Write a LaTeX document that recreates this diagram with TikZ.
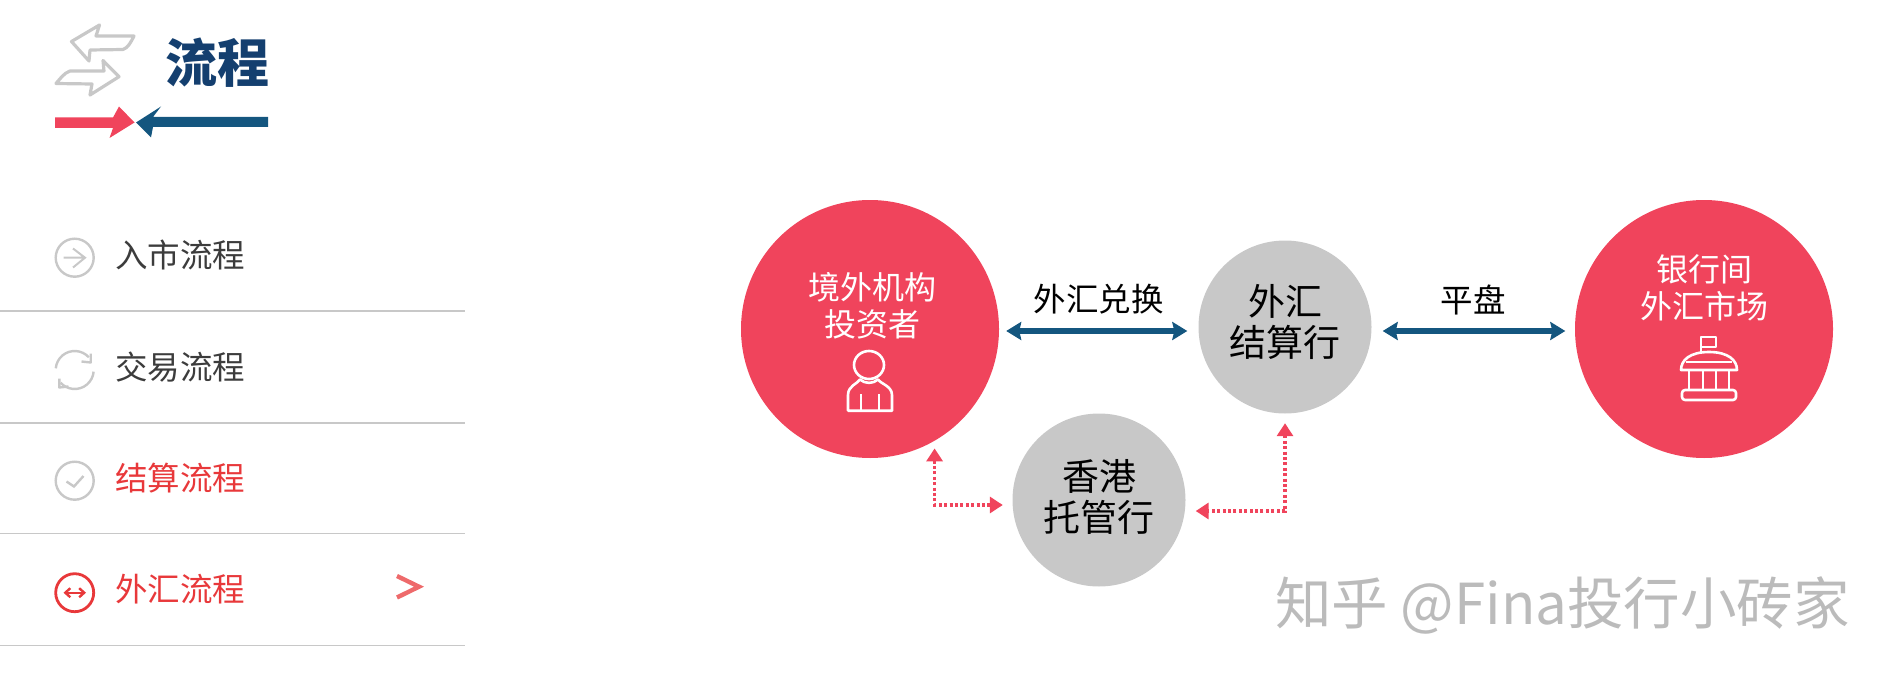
\documentclass[tikz,border=0pt]{standalone}
\usepackage{fontspec}
\setmainfont{Noto Sans CJK SC}
\usetikzlibrary{arrows.meta,calc}
\definecolor{cred}{HTML}{F0445C}
\definecolor{cgray}{HTML}{C8C8C8}
\definecolor{cblue}{HTML}{14567F}
\definecolor{ctitle}{HTML}{143F6F}
\definecolor{ctext}{HTML}{3C3C3C}
\definecolor{cmenu}{HTML}{E8383A}
\definecolor{cmark}{HTML}{BBBBBB}
\tikzset{
  redcircle/.style={circle,fill=cred,draw=none,minimum size=258pt,inner sep=0pt},
  graycircle/.style={circle,fill=cgray,draw=none,minimum size=173pt,inner sep=0pt},
  bluearrow/.style={draw=cblue,line width=5.5pt,{Stealth[length=15pt,width=18pt,inset=2pt]}-{Stealth[length=15pt,width=18pt,inset=2pt]}},
  dotarrow/.style={draw=cred,line width=3.2pt,dash pattern=on 3pt off 2.4pt,{Triangle[length=13pt,width=16pt]}-{Triangle[length=13pt,width=16pt]}},
  flowlabel/.style={inner sep=0pt,text=black,font=\fontsize{32.5pt}{38pt}\selectfont},
  graylabel/.style={inner sep=0pt,text=black,align=center,font=\fontsize{37pt}{41pt}\selectfont},
  whitelabel/.style={inner sep=0pt,text=white,align=center,font=\fontsize{32pt}{37pt}\selectfont},
  menutext/.style={inner sep=0pt,anchor=west,font=\fontsize{32.5pt}{38pt}\selectfont},
  divider/.style={draw=cgray,line width=1.6pt},
  menuicon/.style={circle,draw=cgray,line width=2.4pt,minimum size=38pt,inner sep=0pt},
  iconline/.style={draw=cgray,line width=2.4pt},
  whiteline/.style={draw=white,line width=2.6pt,line join=round},
}
\begin{document}
\begin{tikzpicture}[x=1pt,y=-1pt]
\useasboundingbox (0,0) rectangle (1896,682);
% header icon
\draw[iconline,line width=3.2pt,line join=round] (99.5,25) -- (71.5,41.5) -- (89,61) -- (90,50) -- (123,49.5) .. controls (128,48) and (131,42) .. (134,36) -- (96,36) -- cycle;
\draw[iconline,line width=3.2pt,line join=round] (119,76.7) -- (103,60.5) -- (104,71) -- (70,71) .. controls (64,73) and (60,79) .. (56,83.5) -- (92,84) -- (90,95) -- cycle;
\node[inner sep=0pt,text=ctitle,font=\bfseries\fontsize{52pt}{56pt}\selectfont] (title) at (217,63) {流程};
\fill[cred] (55,117.5) -- (113,117.5) -- (119,106.5) -- (134.5,122.5) -- (109.5,138) -- (113,128) -- (55,128) -- cycle;
\fill[cblue] (136,122.5) -- (161,106.5) -- (153,117) -- (268,117) -- (268,127) -- (153,127) -- (151,137.5) -- cycle;
% menu
\node[menuicon] (ic1) at (74.7,257.7) {};
\draw[iconline,line width=2pt] (63.5,257.7) -- (85,257.7) (73,248.5) -- (85,257.7) -- (73,267.5);
\node[menutext,text=ctext] (m1) at (115,255) {入市流程};
\draw[divider] (0,310.7) -- (465,310.7);

\coordinate (c2) at (74.7,370);
\begin{scope}[shift={(c2)}]
\draw[iconline] (175:19pt) arc[start angle=175,end angle=42,radius=19pt];
\draw[iconline] (-5:19pt) arc[start angle=-5,end angle=-138,radius=19pt];
\end{scope}
\draw[iconline,line join=round] (90.7,353.5) -- (90.7,362.5) -- (81.5,361.5);
\draw[iconline,line join=round] (59.3,378.5) -- (59.3,387.5) -- (68.5,386.5);
\node[menutext,text=ctext] (m2) at (115,367) {交易流程};
\draw[divider] (0,422.7) -- (465,422.7);

\node[menuicon] (ic3) at (74.7,480.7) {};
\draw[iconline] (66.5,481.5) -- (74,486.5) -- (83.5,476);
\node[menutext,text=cmenu] (m3) at (115,478) {结算流程};
\draw[divider] (0,533.5) -- (465,533.5);

\node[menuicon,draw=cmenu,line width=2.8pt] (ic4) at (74.7,592.7) {};
\draw[cmenu,line width=2.4pt,{Straight Barb[length=5pt,width=9pt]}-{Straight Barb[length=5pt,width=9pt]}] (63.5,592.7) -- (86,592.7);
\node[menutext,text=cmenu] (m4) at (115,589) {外汇流程};
\draw[divider] (0,645.5) -- (465,645.5);
\draw[draw=cmenu!75!white,line width=4.4pt] (397,576) -- (419,586.7) -- (397,597.5);

% diagram
\node[redcircle] (inv) at (870,329) {};
\node[redcircle] (mkt) at (1704,329) {};
\node[graycircle] (fx) at (1285,327) {};
\node[graycircle] (hk) at (1099,500) {};
\node[whitelabel] (invt) at (872,305.5) {境外机构\\投资者};
\node[whitelabel] (mktt) at (1704.5,287.5) {银行间\\外汇市场};
\node[graylabel] (fxt) at (1285,321.7) {外汇\\结算行};
\node[graylabel] (hkt) at (1099,496.7) {香港\\托管行};

\coordinate (rowy) at (0,331);
\draw[bluearrow,shorten <=7pt,shorten >=11pt] (inv.east |- rowy) -- (fx.west |- rowy) node[midway,yshift=32pt,flowlabel] (l1) {外汇兑换};
\draw[bluearrow,shorten <=11pt,shorten >=9.5pt] (fx.east |- rowy) -- (mkt.west |- rowy) node[midway,yshift=31pt,flowlabel] (l2) {平盘};

\coordinate (lefty) at (0,505);
\coordinate (righty) at (0,511);
\draw[dotarrow,shorten <=7.5pt,shorten >=9.5pt] (inv.-60) |- (hk.west |- lefty);
\draw[dotarrow,shorten <=9.5pt,shorten >=10pt] (fx.south) |- (hk.east |- righty);

% person icon
\draw[whiteline] (869,365) ellipse[x radius=15,y radius=14];
\draw[whiteline] (848,410.7) -- (848,395) .. controls (848,386) and (857,384) .. (860,379.5) .. controls (865,384) and (873,384) .. (878,379.5) .. controls (881,384) and (892,386) .. (892,395) -- (892,410.7) -- cycle;
\draw[whiteline] (861,394) -- (861,410.7) (879,394) -- (879,410.7);
% bank icon
\draw[whiteline] (1701,352) -- (1701,337) -- (1716,337) -- (1716,347) -- (1701,347);
\draw[whiteline] (1681,370) .. controls (1681,360) and (1690,352) .. (1709,352) .. controls (1728,352) and (1737,360) .. (1737,370) -- cycle;
\draw[whiteline] (1686,362) -- (1732,362);
\draw[whiteline] (1689,370) -- (1689,390) (1703,370) -- (1703,390) (1716,370) -- (1716,390) (1729,370) -- (1729,390);
\draw[whiteline,rounded corners=3pt] (1682,390) rectangle (1736,400);
% watermark
\node[inner sep=0pt,anchor=west,text=cmark,font=\fontsize{56.5pt}{60pt}\selectfont] (wm) at (1275,605) {知乎 @Fina投行小砖家};
\end{tikzpicture}
\end{document}
